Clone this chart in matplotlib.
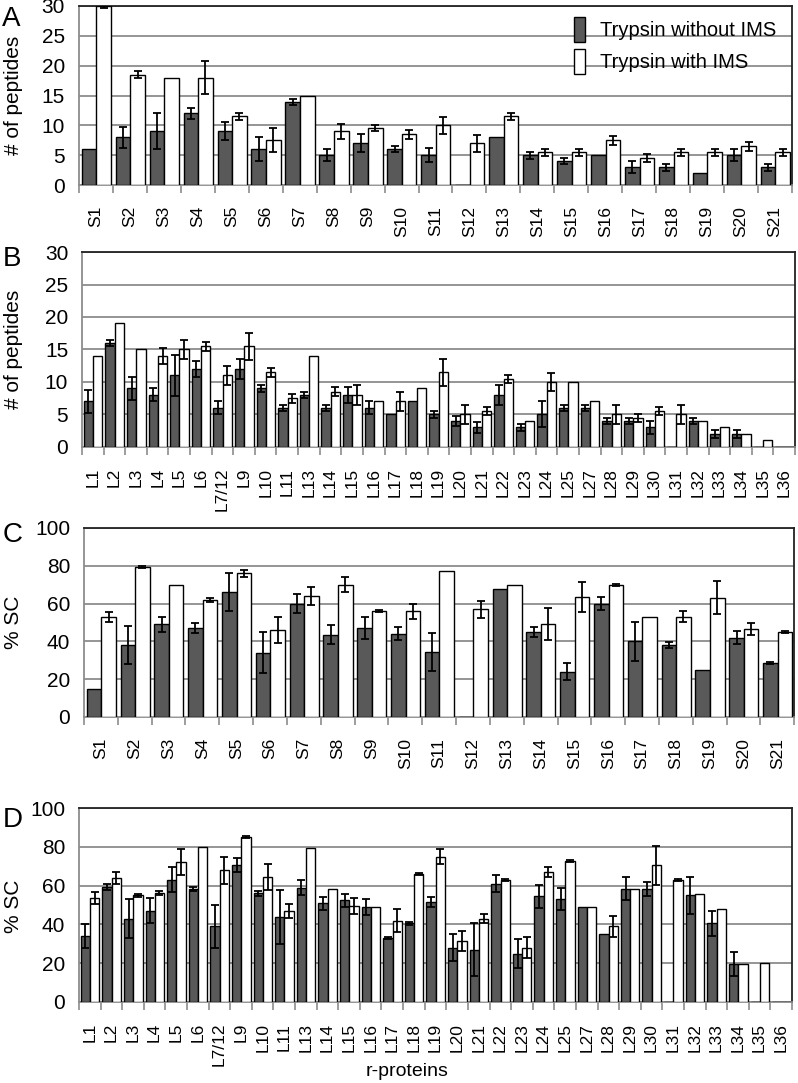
import matplotlib
matplotlib.use("Agg")
import matplotlib.pyplot as plt
import numpy as np

plt.rcParams['font.family'] = ['Liberation Sans', 'DejaVu Sans']

# categories
s_prot = ['S%d' % i for i in range(1, 22)]
l_prot = ['L1', 'L2', 'L3', 'L4', 'L5', 'L6', 'L7/12', 'L9', 'L10', 'L11', 'L13',
          'L14', 'L15', 'L16', 'L17', 'L18', 'L19', 'L20', 'L21', 'L22', 'L23',
          'L24', 'L25', 'L27', 'L28', 'L29', 'L30', 'L31', 'L32', 'L33', 'L34',
          'L35', 'L36']

# A: number of peptides, small subunit
a_without = [6, 8, 9, 12, 9, 6, 14, 5, 7, 6, 5, 0, 8, 5, 4, 5, 3, 3, 2, 5, 3]
a_without_err = [0, 1.7, 3, 1, 1.5, 2, 0.5, 1, 1.5, 0.5, 1.2, 0, 0, 0.6, 0.5, 0, 1, 0.6, 0, 1, 0.6]
a_with = [30, 18.5, 18, 18, 11.5, 7.5, 15, 9, 9.5, 8.5, 10, 7, 11.5, 5.5, 5.5, 7.5, 4.5, 5.5, 5.5, 6.5, 5.5]
a_with_err = [0.3, 0.6, 0, 2.8, 0.6, 2, 0, 1.3, 0.5, 0.7, 1.4, 1.4, 0.6, 0.6, 0.6, 0.7, 0.7, 0.6, 0.6, 0.7, 0.6]

# B: number of peptides, large subunit
b_without = [7, 16, 9, 8, 11, 12, 6, 12, 9, 6, 8, 6, 8, 6, 5, 7, 5, 4, 3, 8, 3,
             5, 6, 6, 4, 4, 3, 0, 4, 2, 2, 0, 0]
b_without_err = [1.8, 0.5, 1.8, 1, 3.2, 1.2, 1, 1.5, 0.5, 0.5, 0.5, 0.5, 1.2, 1, 0, 0, 0.5, 0.8, 0.9, 1.5, 0.5,
                 2, 0.5, 0.5, 0.5, 0.5, 1, 0, 0.5, 0.6, 0.6, 0, 0]
b_with = [14, 19, 15, 14, 15, 15.5, 11, 15.5, 11.5, 7.5, 14, 8.5, 8, 7, 7, 9, 11.5, 5, 5.5, 10.5, 4,
          10, 10, 7, 5, 4.5, 5.5, 5, 4, 3, 2, 1, 0]
b_with_err = [0, 0, 0, 1.3, 1.5, 0.7, 1.4, 2.1, 0.7, 0.7, 0, 0.7, 1.5, 0, 1.4, 0, 2.1, 1.4, 0.6, 0.6, 0,
              1.4, 0, 0, 1.4, 0.6, 0.6, 1.4, 0, 0, 0, 0, 0]

# C: % sequence coverage, small subunit
c_without = [15, 38, 49, 47, 66, 34, 60, 43.5, 47, 44, 34.5, 0, 67.5, 45, 24, 60, 40, 38, 25, 42, 28.5]
c_without_err = [0, 10, 4, 2.8, 10, 11, 5, 5, 6, 3.5, 10, 0, 0, 2.5, 4.5, 3.5, 10.5, 1.4, 0, 3.5, 0.5]
c_with = [53, 79.5, 70, 62, 76, 46, 64, 70, 56, 56, 77, 57, 70, 49, 63.5, 70, 53, 53, 63, 46.5, 45]
c_with_err = [2.6, 0.5, 0, 1.2, 2, 7, 4.8, 4, 0.5, 4, 0, 4.5, 0, 8.5, 8, 0.5, 0, 3, 8.7, 3, 0.7]

# D: % sequence coverage, large subunit
d_without = [34, 59.5, 43, 47, 63, 58.5, 39, 70.5, 56, 44, 59, 51, 52.5, 49, 33, 40.5, 51.5, 28, 27, 61, 25,
             54.5, 53, 49, 35, 58.5, 58.5, 0, 55, 40.5, 19.5, 0, 0]
d_without_err = [6, 1.5, 10, 6.5, 6.5, 1, 11, 3.7, 1.5, 14, 4, 3.3, 3.3, 4.3, 0.5, 1, 2.7, 7, 13.5, 4.5, 7.4,
                 6, 5.8, 0, 0, 5.8, 3.6, 0, 9.5, 6.4, 6.2, 0, 0]
d_with = [53.5, 64, 55, 56, 72, 80, 68, 85, 64.5, 47, 79.5, 58.5, 49.5, 49, 42, 66, 75, 31.5, 43, 63, 28,
          67, 72.5, 49, 39, 58.5, 70.5, 63, 55.5, 48, 19.5, 20, 0]
d_with_err = [3, 3, 0.7, 1, 6.7, 0, 7, 0.5, 6.7, 3.8, 0, 0, 4.1, 0, 6, 0.5, 4, 5, 2.4, 0.5, 5.3,
              2.6, 0.5, 0, 5.5, 0, 10, 0.5, 0, 0, 0, 0, 0]

dark = '#595959'
grid_c = '#8c8c8c'


def panel(ax, cats, v1, e1, v2, e2, ymax, ystep):
    x = np.arange(len(cats))
    w = 0.43
    ekw = dict(elinewidth=1.3, capthick=1.3, ecolor='black')
    e1p = [e if e > 0 else np.nan for e in e1]
    e2p = [e if e > 0 else np.nan for e in e2]
    b1 = ax.bar(x - w / 2 + 0.01, v1, w, color=dark, edgecolor='black', linewidth=1.0,
                yerr=e1p, capsize=3, error_kw=ekw, zorder=3, label='Trypsin without IMS')
    b2 = ax.bar(x + w / 2 + 0.01, v2, w, color='white', edgecolor='black', linewidth=1.0,
                yerr=e2p, capsize=3, error_kw=ekw, zorder=3, label='Trypsin with IMS')
    ax.set_xlim(-0.5, len(cats) - 0.5)
    ax.set_ylim(0, ymax)
    ax.set_yticks(np.arange(0, ymax + 1, ystep))
    ax.yaxis.grid(True, color=grid_c, linewidth=1.3, zorder=0)
    ax.set_axisbelow(True)
    ax.set_xticks(x)
    ax.set_xticklabels(cats, rotation=90, fontsize=12.5)
    ax.set_xticks(np.arange(-0.5, len(cats), 1), minor=True)
    ax.tick_params(axis='x', which='major', length=0, pad=15)
    ax.tick_params(axis='x', which='minor', length=6, width=1.2, color=grid_c)
    ax.tick_params(axis='y', length=0, labelsize=15, pad=10)
    for s in ['left', 'bottom']:
        ax.spines[s].set_color(grid_c)
        ax.spines[s].set_linewidth(1.3)
    for s in ['top', 'right']:
        ax.spines[s].set_color('#222222')
        ax.spines[s].set_linewidth(1.3)
    return b1, b2


fig = plt.figure(figsize=(7.98, 10.83), dpi=100)

axA = fig.add_axes([0.099, 0.829, 0.8935, 0.1655])
axB = fig.add_axes([0.1028, 0.5873, 0.8935, 0.180])
axC = fig.add_axes([0.1053, 0.338, 0.890, 0.1745])
axD = fig.add_axes([0.099, 0.0748, 0.8935, 0.179])

b1, b2 = panel(axA, s_prot, a_without, a_without_err, a_with, a_with_err, 30, 5)
panel(axB, l_prot, b_without, b_without_err, b_with, b_with_err, 30, 5)
panel(axC, s_prot, c_without, c_without_err, c_with, c_with_err, 100, 20)
panel(axD, l_prot, d_without, d_without_err, d_with, d_with_err, 100, 20)

axA.legend(handles=[b1, b2], loc='upper right', bbox_to_anchor=(1.003, 1.04), frameon=False,
           fontsize=14.5, handlelength=0.55, handleheight=1.55, handletextpad=0.75,
           labelspacing=0.35)

# panel letters and y labels
fig.text(0.003, 0.994, 'A', fontsize=20, va='top')
fig.text(0.003, 0.773, 'B', fontsize=20, va='top')
fig.text(0.003, 0.518, 'C', fontsize=20, va='top')
fig.text(0.003, 0.255, 'D', fontsize=20, va='top')

fig.text(0.017, 0.912, '# of peptides', rotation=90, fontsize=15, va='center', ha='center')
fig.text(0.017, 0.677, '# of peptides', rotation=90, fontsize=15, va='center', ha='center')
fig.text(0.017, 0.425, '% SC', rotation=90, fontsize=15, va='center', ha='center')
fig.text(0.017, 0.163, '% SC', rotation=90, fontsize=15, va='center', ha='center')

fig.text(0.51, 0.003, 'r-proteins', fontsize=14, ha='center', va='bottom')

fig.savefig('out.png', dpi=100)
